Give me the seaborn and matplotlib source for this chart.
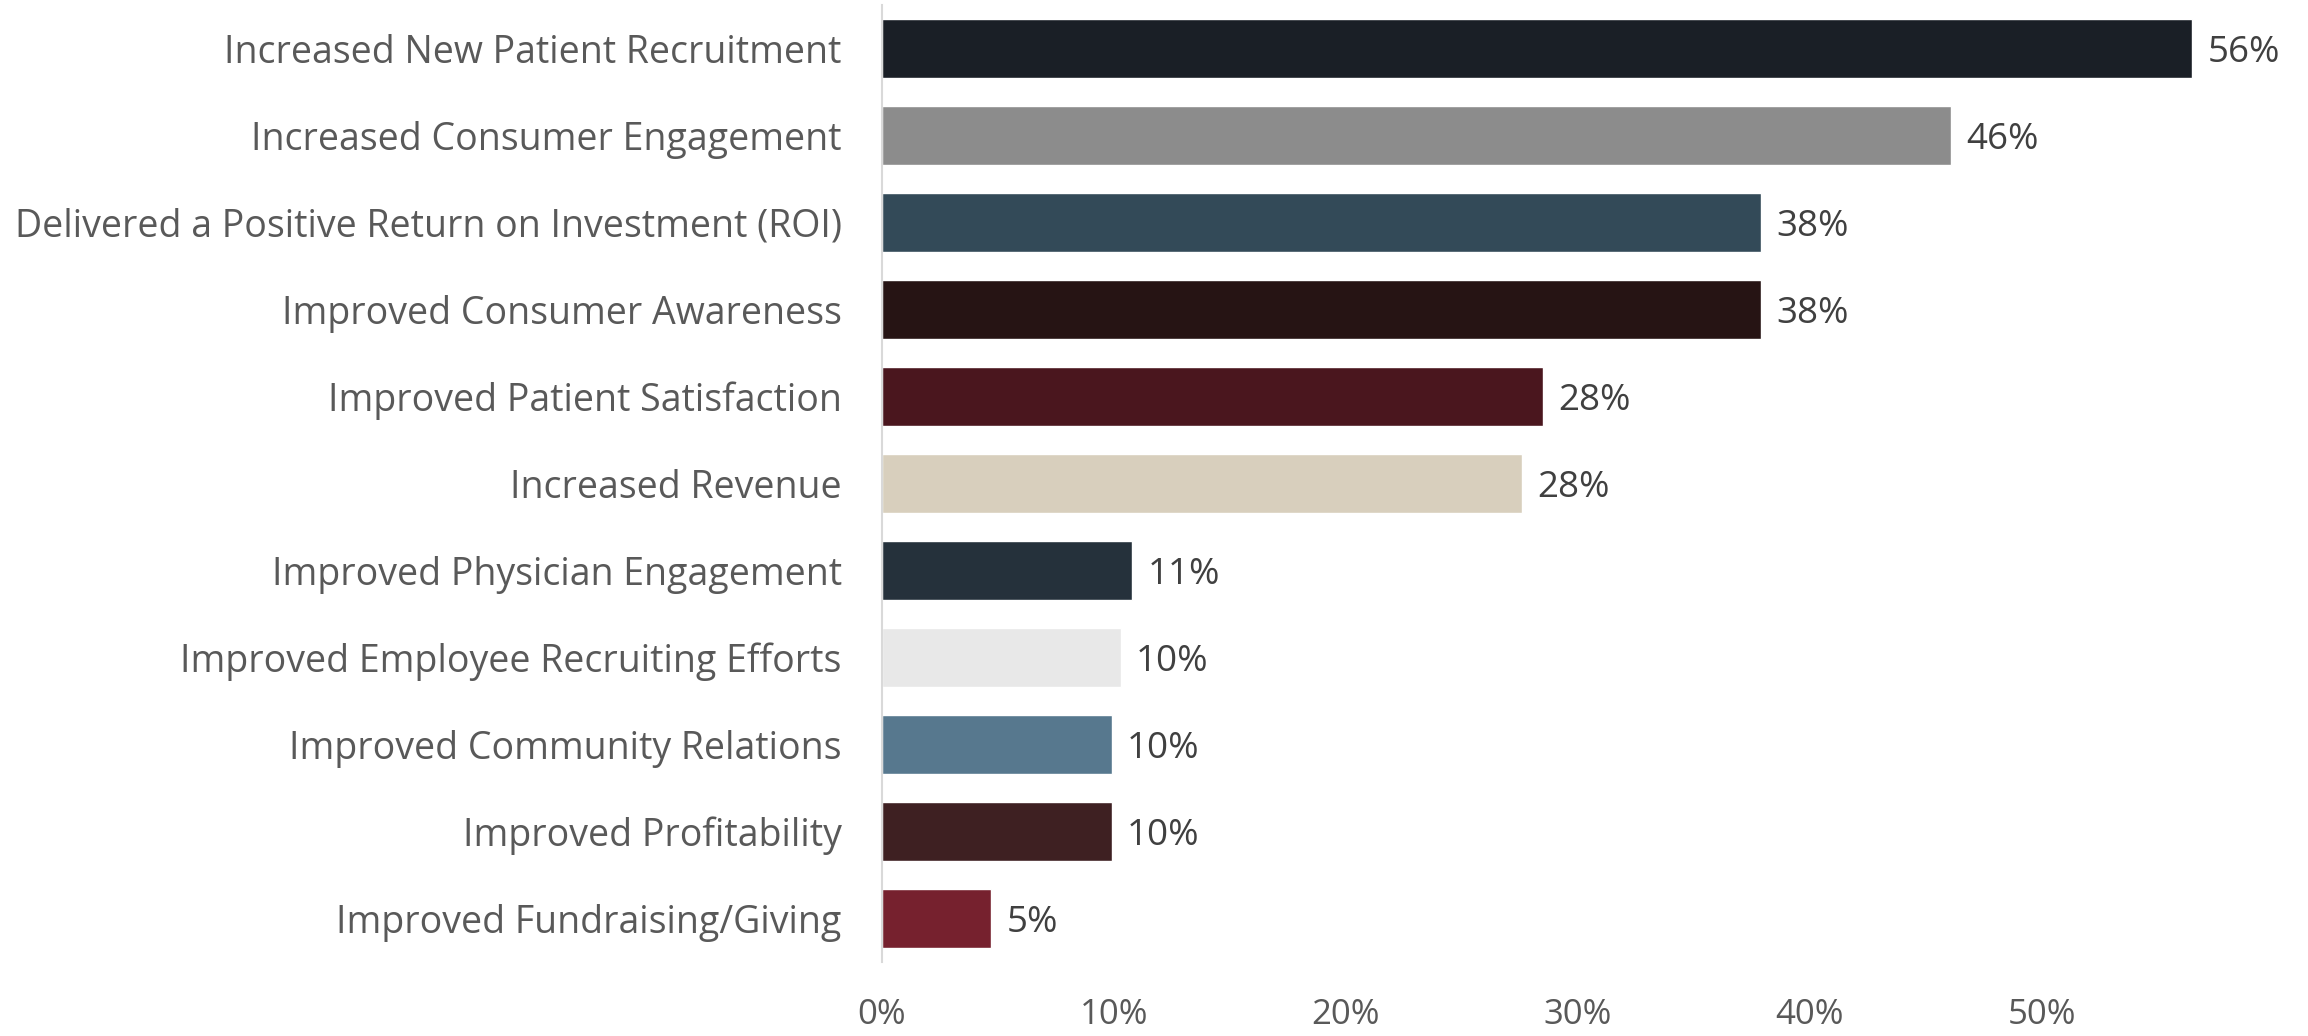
import matplotlib
matplotlib.use("Agg")
import matplotlib.pyplot as plt
import seaborn as sns
import pandas as pd
from matplotlib.ticker import FuncFormatter

categories = [
    "Increased New Patient Recruitment",
    "Increased Consumer Engagement",
    "Delivered a Positive Return on Investment (ROI)",
    "Improved Consumer Awareness",
    "Improved Patient Satisfaction",
    "Increased Revenue",
    "Improved Physician Engagement",
    "Improved Employee Recruiting Efforts",
    "Improved Community Relations",
    "Improved Profitability",
    "Improved Fundraising/Giving",
]
values = [0.565, 0.461, 0.379, 0.379, 0.285, 0.276, 0.108, 0.103, 0.099, 0.099, 0.047]
value_labels = ["56%", "46%", "38%", "38%", "28%", "28%", "11%", "10%", "10%", "10%", "5%"]
bar_colors = ["#1A1F26", "#8C8C8C", "#334A58", "#261414", "#4A161E", "#D8CFBD",
              "#25313B", "#E8E8E8", "#57788E", "#3E2022", "#76212E"]
x_ticks = [0, 0.1, 0.2, 0.3, 0.4, 0.5]

sns.set_theme(style="white")
plt.rcParams["font.family"] = ["Open Sans", "DejaVu Sans"]

df = pd.DataFrame({"category": categories, "value": values})

fig = plt.figure(figsize=(23.08, 10.36), dpi=100)
ax = fig.add_axes([882 / 2308, 74 / 1036, (2204 - 882) / 2308, (962 - 5) / 1036])

sns.barplot(data=df, x="value", y="category", hue="category", palette=bar_colors,
            orient="h", width=0.68, legend=False, ax=ax, saturation=1)

ax.set_xlim(0, 0.57)
ax.set_ylim(len(categories) - 0.5, -0.5)
ax.set_xticks(x_ticks)
ax.xaxis.set_major_formatter(FuncFormatter(lambda v, p: f"{v*100:.0f}%"))
ax.set_xlabel("")
ax.set_ylabel("")

for s in ["top", "right", "bottom"]:
    ax.spines[s].set_visible(False)
ax.spines["left"].set_color("#D9D9D9")
ax.spines["left"].set_linewidth(1.5)

ax.tick_params(axis="y", length=0, pad=29, labelsize=27, labelcolor="#595959")
ax.tick_params(axis="x", length=0, pad=26, labelsize=25, labelcolor="#595959")

texts = []
if len(ax.containers) == len(categories):
    for i, cont in enumerate(ax.containers):
        texts += ax.bar_label(cont, labels=[value_labels[i]], padding=11,
                              fontsize=26.5, color="#404040")
else:
    texts += ax.bar_label(ax.containers[0], labels=value_labels, padding=11,
                          fontsize=26.5, color="#404040")
for t in texts:
    t.xyann = (t.xyann[0], -3)

fig.savefig("out.png", dpi=100, facecolor="white")
